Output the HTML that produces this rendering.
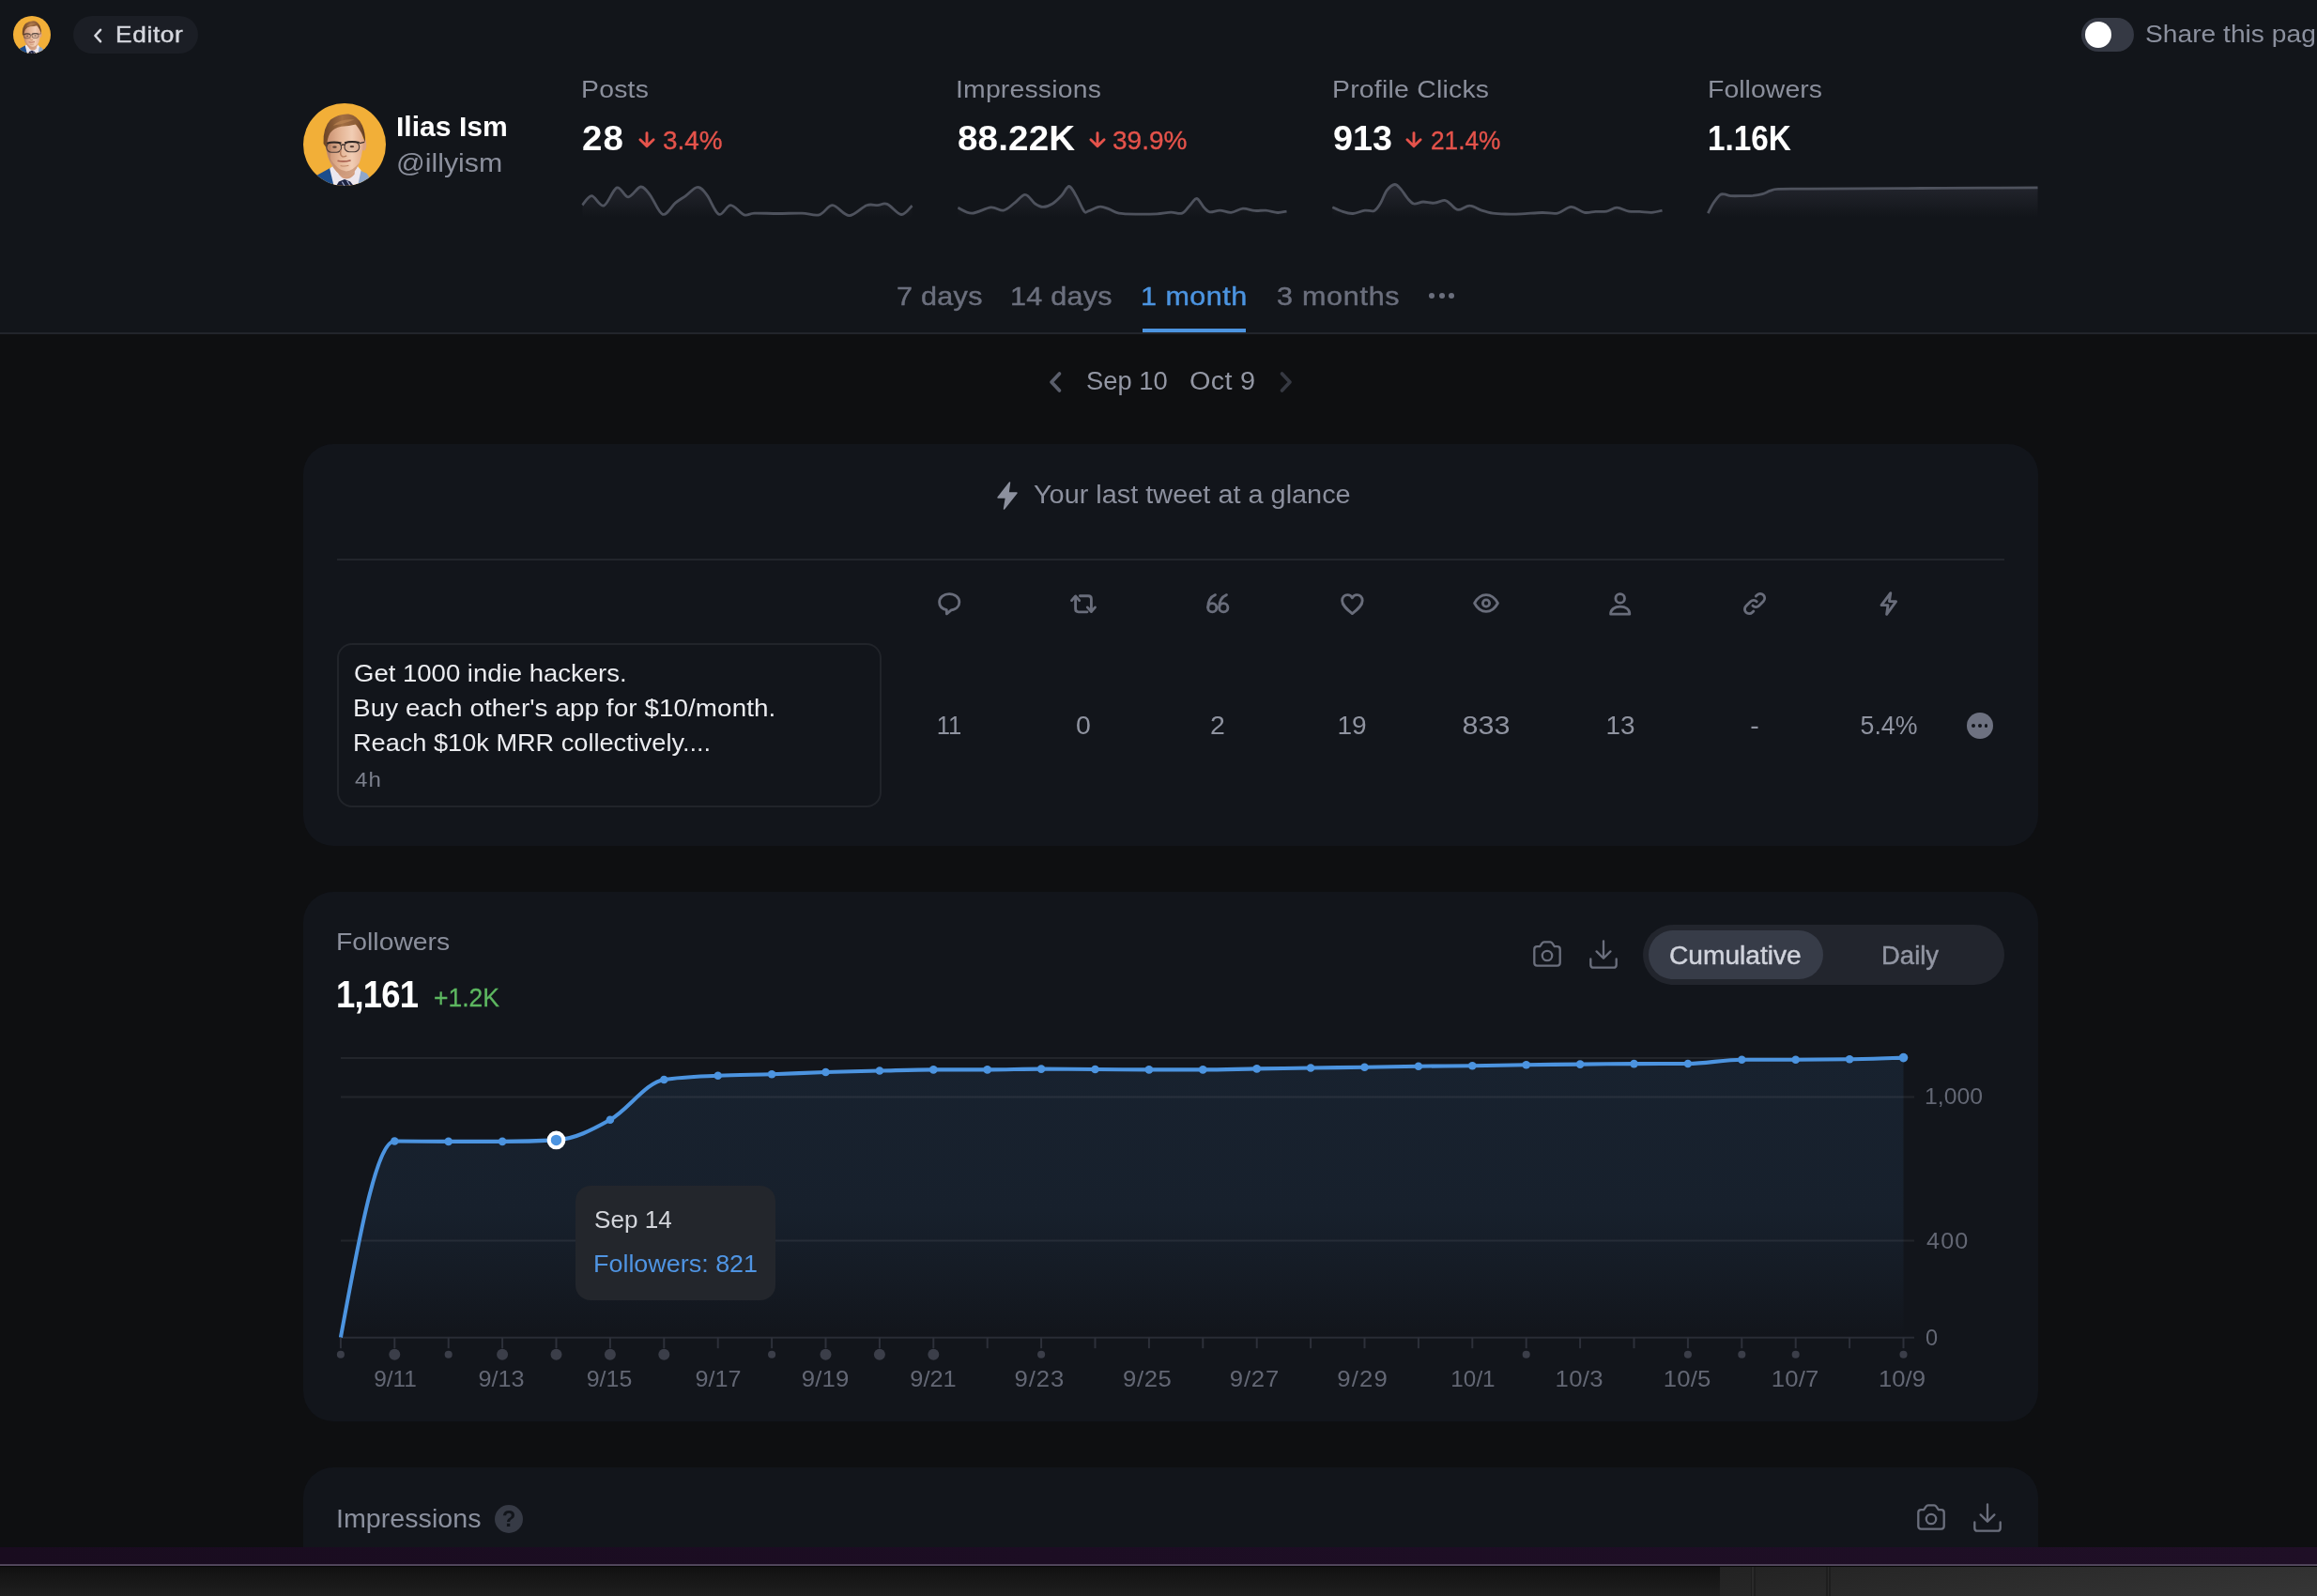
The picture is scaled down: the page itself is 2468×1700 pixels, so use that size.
<!DOCTYPE html>
<html lang="en"><head><meta charset="utf-8"><title>Analytics</title>
<style>
html,body{margin:0;padding:0;background:#0e0f11;}
body{width:2468px;height:1700px;overflow:hidden;position:relative;font-family:"Liberation Sans", Arial, sans-serif;}
.t{position:absolute;white-space:nowrap;}
.b{position:absolute;box-sizing:border-box;}
svg{position:absolute;overflow:visible;}
</style></head><body>
<div class="b" style="left:0px;top:0px;width:2468px;height:354px;background:#12151a;border-radius:0px;"></div>
<div class="b" style="left:0px;top:354px;width:2468px;height:2px;background:#22252c;border-radius:0px;"></div>
<svg viewBox="0 0 100 100" style="left:14px;top:17px;width:40px;height:40px">
<defs><clipPath id="a1"><circle cx="50" cy="50" r="50"/></clipPath>
<filter id="a1b" x="-10%" y="-10%" width="120%" height="120%"><feGaussianBlur stdDeviation="1.3"/></filter>
<linearGradient id="a1g" x1="0" y1="0" x2="1" y2="0"><stop offset="0" stop-color="#c68d6d"/><stop offset=".35" stop-color="#e3b292"/><stop offset=".7" stop-color="#f1cdb4"/><stop offset="1" stop-color="#e2ad8e"/></linearGradient>
<linearGradient id="a1h" x1="0" y1="0" x2="1" y2="0"><stop offset="0" stop-color="#6a4326"/><stop offset=".45" stop-color="#a36f43"/><stop offset=".8" stop-color="#8a5a35"/><stop offset="1" stop-color="#5e3b22"/></linearGradient></defs>
<circle cx="50" cy="50" r="50" fill="#f2af38"/>
<g clip-path="url(#a1)"><g filter="url(#a1b)">
<path d="M8,100 L17,87 L33,78 L40,100 Z" fill="#1e4d8d"/>
<path d="M66,80 L77,85 L86,100 L62,100 Z" fill="#8ea6c9"/>
<path d="M32,79 L40,73 L63,73 L70,81 L66,100 L37,100 Z" fill="#ece7ee"/>
<path d="M39,66 L64,66 L62,86 Q52,97 43,86 Z" fill="#d29b7b"/>
<path d="M43,95 L50,92 L57,95 L61,100 L40,100 Z" fill="#1a2040"/>
<path d="M47,95 L50,100 M53,94 L57,100" stroke="#9aa3c4" stroke-width="1.500"/>
<ellipse cx="73.500" cy="50" rx="3" ry="7.500" fill="#dba283"/>
<path d="M27.500,44 Q26.500,58 31.500,69 Q36,80 44,86 Q52,90.500 59,86 Q66,79 69,69 Q72.500,58 72.500,44 Q71,23 50,22 Q29,23 27.500,44 Z" fill="url(#a1g)"/>
<path d="M31.500,66 Q36,80 44,86 Q52,90.500 59,86 Q65,80 68,72 Q60,82 52,82.500 Q42,82 31.500,66 Z" fill="#bd8464" opacity=".6"/>
<path d="M28,46 Q27,60 33,72 Q33,60 33.500,48 Z" fill="#b67f60" opacity=".55"/>
<path d="M24.500,49 Q23.500,30 33,20 Q43,12.500 55,13.200 Q66,15 71.500,27 Q75.500,36 75,48 Q73,41 70.500,36 Q67,30 63.500,25.500 Q56,27.500 46,28 Q37,29.500 32.500,36 Q29,42 28,54 Z" fill="url(#a1h)"/>
<path d="M36,27 Q46,18 62,20 Q54,23 46,25 Q40,26 36,27 Z" fill="#b98352" opacity=".75"/>
<rect x="28.300" y="47.400" width="17.800" height="12" rx="5.800" fill="rgba(90,60,50,.10)" stroke="#4a3a35" stroke-width="1.300"/>
<rect x="50" y="46.800" width="17.800" height="12" rx="5.800" fill="rgba(90,60,50,.10)" stroke="#4a3a35" stroke-width="1.300"/>
<path d="M28.500,48.500 Q37,46 46,48.300 M50,47.800 Q59,45.500 68,47.700" stroke="#2f2624" stroke-width="2.100" fill="none"/>
<path d="M46.200,50.800 Q48,49.300 50,50.300" stroke="#3a2d2a" stroke-width="1.700" fill="none"/>
<path d="M68,48.500 L74,47" stroke="#3a2d2a" stroke-width="1.400"/>
<ellipse cx="38" cy="53" rx="2.600" ry="1.300" fill="#5a4035"/><ellipse cx="59" cy="52.500" rx="2.600" ry="1.300" fill="#5a4035"/>
<path d="M45.500,57 Q44,63 47.500,64.500 Q50,65 52.500,63.500" stroke="#b87f60" stroke-width="1.600" fill="none"/>
<path d="M41.500,69.600 Q49,71.500 57.500,69" stroke="#a9604f" stroke-width="2" fill="none"/>
<path d="M45,75.500 Q50,77 55,75.300" stroke="#c08868" stroke-width="1.200" fill="none"/>
</g></g></svg>
<svg viewBox="0 0 100 100" style="left:323px;top:110px;width:88px;height:88px">
<defs><clipPath id="a2"><circle cx="50" cy="50" r="50"/></clipPath>
<filter id="a2b" x="-10%" y="-10%" width="120%" height="120%"><feGaussianBlur stdDeviation="0.9"/></filter>
<linearGradient id="a2g" x1="0" y1="0" x2="1" y2="0"><stop offset="0" stop-color="#c68d6d"/><stop offset=".35" stop-color="#e3b292"/><stop offset=".7" stop-color="#f1cdb4"/><stop offset="1" stop-color="#e2ad8e"/></linearGradient>
<linearGradient id="a2h" x1="0" y1="0" x2="1" y2="0"><stop offset="0" stop-color="#6a4326"/><stop offset=".45" stop-color="#a36f43"/><stop offset=".8" stop-color="#8a5a35"/><stop offset="1" stop-color="#5e3b22"/></linearGradient></defs>
<circle cx="50" cy="50" r="50" fill="#f2af38"/>
<g clip-path="url(#a2)"><g filter="url(#a2b)">
<path d="M8,100 L17,87 L33,78 L40,100 Z" fill="#1e4d8d"/>
<path d="M66,80 L77,85 L86,100 L62,100 Z" fill="#8ea6c9"/>
<path d="M32,79 L40,73 L63,73 L70,81 L66,100 L37,100 Z" fill="#ece7ee"/>
<path d="M39,66 L64,66 L62,86 Q52,97 43,86 Z" fill="#d29b7b"/>
<path d="M43,95 L50,92 L57,95 L61,100 L40,100 Z" fill="#1a2040"/>
<path d="M47,95 L50,100 M53,94 L57,100" stroke="#9aa3c4" stroke-width="1.500"/>
<ellipse cx="73.500" cy="50" rx="3" ry="7.500" fill="#dba283"/>
<path d="M27.500,44 Q26.500,58 31.500,69 Q36,80 44,86 Q52,90.500 59,86 Q66,79 69,69 Q72.500,58 72.500,44 Q71,23 50,22 Q29,23 27.500,44 Z" fill="url(#a2g)"/>
<path d="M31.500,66 Q36,80 44,86 Q52,90.500 59,86 Q65,80 68,72 Q60,82 52,82.500 Q42,82 31.500,66 Z" fill="#bd8464" opacity=".6"/>
<path d="M28,46 Q27,60 33,72 Q33,60 33.500,48 Z" fill="#b67f60" opacity=".55"/>
<path d="M24.500,49 Q23.500,30 33,20 Q43,12.500 55,13.200 Q66,15 71.500,27 Q75.500,36 75,48 Q73,41 70.500,36 Q67,30 63.500,25.500 Q56,27.500 46,28 Q37,29.500 32.500,36 Q29,42 28,54 Z" fill="url(#a2h)"/>
<path d="M36,27 Q46,18 62,20 Q54,23 46,25 Q40,26 36,27 Z" fill="#b98352" opacity=".75"/>
<rect x="28.300" y="47.400" width="17.800" height="12" rx="5.800" fill="rgba(90,60,50,.10)" stroke="#4a3a35" stroke-width="1.300"/>
<rect x="50" y="46.800" width="17.800" height="12" rx="5.800" fill="rgba(90,60,50,.10)" stroke="#4a3a35" stroke-width="1.300"/>
<path d="M28.500,48.500 Q37,46 46,48.300 M50,47.800 Q59,45.500 68,47.700" stroke="#2f2624" stroke-width="2.100" fill="none"/>
<path d="M46.200,50.800 Q48,49.300 50,50.300" stroke="#3a2d2a" stroke-width="1.700" fill="none"/>
<path d="M68,48.500 L74,47" stroke="#3a2d2a" stroke-width="1.400"/>
<ellipse cx="38" cy="53" rx="2.600" ry="1.300" fill="#5a4035"/><ellipse cx="59" cy="52.500" rx="2.600" ry="1.300" fill="#5a4035"/>
<path d="M45.500,57 Q44,63 47.500,64.500 Q50,65 52.500,63.500" stroke="#b87f60" stroke-width="1.600" fill="none"/>
<path d="M41.500,69.600 Q49,71.500 57.500,69" stroke="#a9604f" stroke-width="2" fill="none"/>
<path d="M45,75.500 Q50,77 55,75.300" stroke="#c08868" stroke-width="1.200" fill="none"/>
</g></g></svg>
<div class="b" style="left:78px;top:17px;width:133px;height:40px;background:#1b1e25;border-radius:20px;"></div>
<svg viewBox="0 0 10 16" style="left:99px;top:29.5px;width:10px;height:16px"><path d="M8,1.800 L2.400,8 L8,14.200" fill="none" stroke="#d5d7de" stroke-width="2.600" stroke-linecap="round" stroke-linejoin="round"/></svg>
<div class="t" style="top:24.96px;font-size:24.5px;line-height:24.5px;color:#d5d7de;font-weight:400;letter-spacing:0.622px;left:123.06px;transform:scaleX(1.07);transform-origin:0 0;-webkit-text-stroke:0.45px;">Editor</div>
<div class="b" style="left:2217px;top:19px;width:56px;height:36px;background:#353944;border-radius:18px;"></div>
<div class="b" style="left:2220.8px;top:22.8px;width:28.4px;height:28.4px;background:#ffffff;border-radius:15px;"></div>
<div class="t" style="top:23.27px;font-size:26.5px;line-height:26.5px;color:#8b909e;font-weight:400;left:2285.10px;transform:scaleX(1.0639);transform-origin:0 0;">Share this page</div>
<div class="t" style="top:120.30px;font-size:30px;line-height:30px;color:#ffffff;font-weight:700;left:421.99px;transform:scaleX(1.0033);transform-origin:0 0;">Ilias Ism</div>
<div class="t" style="top:159.07px;font-size:28.5px;line-height:28.5px;color:#8b8f9c;font-weight:400;left:421.74px;transform:scaleX(1.0634);transform-origin:0 0;">@illyism</div>
<div class="t" style="top:81.57px;font-size:26.5px;line-height:26.5px;color:#8b8f9c;font-weight:400;letter-spacing:0.216px;left:618.73px;transform:scaleX(1.07);transform-origin:0 0;">Posts</div>
<div class="t" style="top:129.63px;font-size:36px;line-height:36px;color:#ffffff;font-weight:700;letter-spacing:1.097px;left:620.30px;transform:scaleX(1.07);transform-origin:0 0;">28</div>
<svg viewBox="0 0 18 18" style="left:679.9px;top:139.5px;width:18px;height:18px"><path d="M9,1.600 V15.600 M1.900,8.700 L9,15.800 L16.100,8.700" fill="none" stroke="#e5534b" stroke-width="2.900" stroke-linecap="round" stroke-linejoin="round"/></svg>
<div class="t" style="top:137.04px;font-size:27px;line-height:27px;color:#e5534b;font-weight:400;letter-spacing:0.001px;left:705.77px;transform:scaleX(1.0314);transform-origin:0 0;-webkit-text-stroke:0.35px;">3.4%</div>
<div class="t" style="top:81.57px;font-size:26.5px;line-height:26.5px;color:#8b8f9c;font-weight:400;letter-spacing:0.187px;left:1018.46px;transform:scaleX(1.07);transform-origin:0 0;">Impressions</div>
<div class="t" style="top:129.63px;font-size:36px;line-height:36px;color:#ffffff;font-weight:700;letter-spacing:0.153px;left:1020.30px;transform:scaleX(1.07);transform-origin:0 0;">88.22K</div>
<svg viewBox="0 0 18 18" style="left:1160.1px;top:139.5px;width:18px;height:18px"><path d="M9,1.600 V15.600 M1.900,8.700 L9,15.800 L16.100,8.700" fill="none" stroke="#e5534b" stroke-width="2.900" stroke-linecap="round" stroke-linejoin="round"/></svg>
<div class="t" style="top:137.04px;font-size:27px;line-height:27px;color:#e5534b;font-weight:400;left:1185.46px;transform:scaleX(1.0372);transform-origin:0 0;-webkit-text-stroke:0.35px;">39.9%</div>
<div class="t" style="top:81.57px;font-size:26.5px;line-height:26.5px;color:#8b8f9c;font-weight:400;letter-spacing:0.228px;left:1418.73px;transform:scaleX(1.07);transform-origin:0 0;">Profile Clicks</div>
<div class="t" style="top:129.63px;font-size:36px;line-height:36px;color:#ffffff;font-weight:700;letter-spacing:-0.001px;left:1420.32px;transform:scaleX(1.0482);transform-origin:0 0;">913</div>
<svg viewBox="0 0 18 18" style="left:1497.1px;top:139.5px;width:18px;height:18px"><path d="M9,1.600 V15.600 M1.900,8.700 L9,15.800 L16.100,8.700" fill="none" stroke="#e5534b" stroke-width="2.900" stroke-linecap="round" stroke-linejoin="round"/></svg>
<div class="t" style="top:137.04px;font-size:27px;line-height:27px;color:#e5534b;font-weight:400;left:1523.78px;transform:scaleX(0.9721);transform-origin:0 0;-webkit-text-stroke:0.35px;">21.4%</div>
<div class="t" style="top:81.57px;font-size:26.5px;line-height:26.5px;color:#8b8f9c;font-weight:400;letter-spacing:0.07px;left:1818.73px;transform:scaleX(1.07);transform-origin:0 0;">Followers</div>
<div class="t" style="top:129.63px;font-size:36px;line-height:36px;color:#ffffff;font-weight:700;letter-spacing:-0.001px;left:1819.42px;transform:scaleX(0.925);transform-origin:0 0;">1.16K</div>
<svg style="left:0;top:0;width:2468px;height:260px" viewBox="0 0 2468 260"><defs><linearGradient id="sg" x1="0" y1="0" x2="0" y2="1" gradientUnits="userSpaceOnUse"><stop offset="0" stop-color="#262932" /><stop offset="0" stop-color="#262932" stop-opacity=".9"/><stop offset="1" stop-color="#262932" stop-opacity="0"/></linearGradient></defs>
<linearGradient id="sg620" x1="0" y1="196" x2="0" y2="231" gradientUnits="userSpaceOnUse"><stop offset="0" stop-color="#24262e"/><stop offset="1" stop-color="#24262e" stop-opacity="0"/></linearGradient>
<path d="M620.4,218.4C622.1,216.8 626.4,208.5 630.2,208.6C634.0,208.7 638.7,220.5 643.2,219.1C647.6,217.6 652.8,201.4 657.1,199.9C661.5,198.3 665.0,209.9 669.2,209.8C673.5,209.7 678.5,199.4 682.4,199.0C686.2,198.7 688.6,202.9 692.5,207.8C696.4,212.7 701.5,226.9 705.9,228.3C710.4,229.7 715.3,219.5 719.4,216.2C723.5,212.9 726.4,211.4 730.4,208.6C734.3,205.8 739.2,199.5 743.0,199.4C746.8,199.2 749.3,202.9 753.1,207.8C756.9,212.6 761.5,226.5 765.7,228.3C769.9,230.1 773.8,218.6 778.3,218.7C782.8,218.8 788.4,227.4 792.6,228.8C796.8,230.2 797.5,227.4 803.6,227.1C809.6,226.9 820.4,227.5 828.8,227.5C837.2,227.5 846.8,226.9 854.1,227.1C861.4,227.4 867.1,230.2 872.6,228.8C878.1,227.4 881.6,218.6 886.9,218.7C892.2,218.9 898.5,229.7 904.6,229.7C910.6,229.7 918.0,220.5 923.1,218.7C928.1,216.9 931.2,218.9 934.9,218.7C938.5,218.5 940.8,215.7 945.0,217.4C949.2,219.0 955.7,228.2 960.1,228.5C964.5,228.8 969.6,220.6 971.6,219.1 L971.6,231 L620.4,231 Z" fill="url(#sg620)"/>
<path d="M620.4,218.4C622.1,216.8 626.4,208.5 630.2,208.6C634.0,208.7 638.7,220.5 643.2,219.1C647.6,217.6 652.8,201.4 657.1,199.9C661.5,198.3 665.0,209.9 669.2,209.8C673.5,209.7 678.5,199.4 682.4,199.0C686.2,198.7 688.6,202.9 692.5,207.8C696.4,212.7 701.5,226.9 705.9,228.3C710.4,229.7 715.3,219.5 719.4,216.2C723.5,212.9 726.4,211.4 730.4,208.6C734.3,205.8 739.2,199.5 743.0,199.4C746.8,199.2 749.3,202.9 753.1,207.8C756.9,212.6 761.5,226.5 765.7,228.3C769.9,230.1 773.8,218.6 778.3,218.7C782.8,218.8 788.4,227.4 792.6,228.8C796.8,230.2 797.5,227.4 803.6,227.1C809.6,226.9 820.4,227.5 828.8,227.5C837.2,227.5 846.8,226.9 854.1,227.1C861.4,227.4 867.1,230.2 872.6,228.8C878.1,227.4 881.6,218.6 886.9,218.7C892.2,218.9 898.5,229.7 904.6,229.7C910.6,229.7 918.0,220.5 923.1,218.7C928.1,216.9 931.2,218.9 934.9,218.7C938.5,218.5 940.8,215.7 945.0,217.4C949.2,219.0 955.7,228.2 960.1,228.5C964.5,228.8 969.6,220.6 971.6,219.1" fill="none" stroke="#4e525d" stroke-width="2.800" stroke-linejoin="round" stroke-linecap="butt"/>
<linearGradient id="sg1020" x1="0" y1="196" x2="0" y2="231" gradientUnits="userSpaceOnUse"><stop offset="0" stop-color="#24262e"/><stop offset="1" stop-color="#24262e" stop-opacity="0"/></linearGradient>
<path d="M1020.4,221.2C1022.9,222.2 1029.4,227.2 1035.2,227.1C1041.1,227.1 1049.8,221.4 1055.4,220.9C1061.1,220.4 1064.7,224.9 1068.9,224.1C1073.1,223.3 1076.8,219.0 1080.7,216.2C1084.6,213.4 1088.5,207.1 1092.1,207.3C1095.8,207.4 1099.4,214.8 1102.6,217.0C1105.7,219.2 1107.9,220.4 1111.0,220.4C1114.1,220.4 1117.7,219.1 1121.1,217.0C1124.5,214.9 1128.2,210.9 1131.2,207.8C1134.1,204.7 1136.2,198.4 1138.8,198.5C1141.3,198.7 1143.7,204.2 1146.3,208.6C1149.0,213.0 1152.5,222.4 1154.8,225.1C1157.0,227.8 1157.0,225.4 1159.8,224.6C1162.6,223.8 1167.9,220.3 1171.6,220.1C1175.2,219.8 1178.3,221.7 1181.7,222.9C1185.1,224.1 1186.7,226.3 1191.8,227.1C1196.8,228.0 1205.3,228.0 1212.0,228.1C1218.7,228.3 1226.3,228.1 1232.2,227.8C1238.1,227.5 1242.8,226.2 1247.3,226.1C1251.8,226.0 1255.7,228.4 1259.1,227.1C1262.5,225.9 1264.9,221.3 1267.5,218.7C1270.1,216.1 1272.2,211.1 1274.8,211.5C1277.3,211.9 1280.4,218.9 1282.7,221.2C1285.0,223.6 1285.8,225.3 1288.6,225.8C1291.4,226.3 1295.7,224.0 1299.5,224.1C1303.3,224.2 1307.2,226.6 1311.3,226.3C1315.4,226.0 1319.7,222.4 1323.9,222.1C1328.1,221.8 1332.5,224.1 1336.5,224.4C1340.6,224.8 1344.3,223.8 1348.3,224.1C1352.4,224.4 1357.2,226.3 1361.0,226.5C1364.7,226.6 1368.9,225.3 1370.5,225.1 L1370.5,231 L1020.4,231 Z" fill="url(#sg1020)"/>
<path d="M1020.4,221.2C1022.9,222.2 1029.4,227.2 1035.2,227.1C1041.1,227.1 1049.8,221.4 1055.4,220.9C1061.1,220.4 1064.7,224.9 1068.9,224.1C1073.1,223.3 1076.8,219.0 1080.7,216.2C1084.6,213.4 1088.5,207.1 1092.1,207.3C1095.8,207.4 1099.4,214.8 1102.6,217.0C1105.7,219.2 1107.9,220.4 1111.0,220.4C1114.1,220.4 1117.7,219.1 1121.1,217.0C1124.5,214.9 1128.2,210.9 1131.2,207.8C1134.1,204.7 1136.2,198.4 1138.8,198.5C1141.3,198.7 1143.7,204.2 1146.3,208.6C1149.0,213.0 1152.5,222.4 1154.8,225.1C1157.0,227.8 1157.0,225.4 1159.8,224.6C1162.6,223.8 1167.9,220.3 1171.6,220.1C1175.2,219.8 1178.3,221.7 1181.7,222.9C1185.1,224.1 1186.7,226.3 1191.8,227.1C1196.8,228.0 1205.3,228.0 1212.0,228.1C1218.7,228.3 1226.3,228.1 1232.2,227.8C1238.1,227.5 1242.8,226.2 1247.3,226.1C1251.8,226.0 1255.7,228.4 1259.1,227.1C1262.5,225.9 1264.9,221.3 1267.5,218.7C1270.1,216.1 1272.2,211.1 1274.8,211.5C1277.3,211.9 1280.4,218.9 1282.7,221.2C1285.0,223.6 1285.8,225.3 1288.6,225.8C1291.4,226.3 1295.7,224.0 1299.5,224.1C1303.3,224.2 1307.2,226.6 1311.3,226.3C1315.4,226.0 1319.7,222.4 1323.9,222.1C1328.1,221.8 1332.5,224.1 1336.5,224.4C1340.6,224.8 1344.3,223.8 1348.3,224.1C1352.4,224.4 1357.2,226.3 1361.0,226.5C1364.7,226.6 1368.9,225.3 1370.5,225.1" fill="none" stroke="#4e525d" stroke-width="2.800" stroke-linejoin="round" stroke-linecap="butt"/>
<linearGradient id="sg1420" x1="0" y1="196" x2="0" y2="231" gradientUnits="userSpaceOnUse"><stop offset="0" stop-color="#24262e"/><stop offset="1" stop-color="#24262e" stop-opacity="0"/></linearGradient>
<path d="M1419.3,220.7C1421.1,221.5 1426.6,224.3 1430.2,225.4C1433.8,226.6 1437.2,227.7 1441.1,227.5C1445.1,227.2 1450.0,224.6 1453.8,224.1C1457.6,223.6 1461.1,225.8 1463.9,224.4C1466.7,223.1 1468.4,219.8 1470.6,216.2C1472.8,212.6 1474.8,206.0 1477.3,202.7C1479.9,199.4 1483.2,196.6 1485.7,196.5C1488.3,196.4 1490.2,199.4 1492.5,201.9C1494.7,204.3 1497.0,208.6 1499.2,211.1C1501.5,213.7 1503.1,216.4 1505.9,217.0C1508.7,217.7 1512.4,215.2 1516.0,215.0C1519.7,214.9 1524.0,216.5 1527.8,216.2C1531.6,215.9 1536.0,213.2 1538.8,213.3C1541.6,213.5 1542.3,215.3 1544.7,217.0C1547.0,218.7 1549.6,223.1 1553.1,223.4C1556.6,223.8 1561.5,218.9 1565.7,219.1C1569.9,219.2 1574.3,222.8 1578.3,224.1C1582.4,225.4 1585.9,226.5 1590.1,227.1C1594.3,227.8 1598.5,227.9 1603.6,228.0C1608.6,228.1 1613.9,228.1 1620.4,227.8C1626.9,227.6 1635.8,226.6 1642.3,226.5C1648.7,226.3 1653.9,228.1 1659.1,227.1C1664.3,226.1 1668.7,220.5 1673.4,220.4C1678.2,220.3 1683.4,225.4 1687.7,226.3C1692.1,227.1 1695.6,225.6 1699.5,225.4C1703.4,225.3 1707.5,225.8 1711.3,225.1C1715.1,224.4 1718.3,221.2 1722.2,221.2C1726.2,221.2 1730.8,224.4 1734.9,225.1C1738.9,225.8 1742.6,225.3 1746.6,225.4C1750.7,225.6 1755.3,226.5 1759.3,226.3C1763.3,226.1 1768.7,224.5 1770.5,224.1 L1770.5,231 L1419.3,231 Z" fill="url(#sg1420)"/>
<path d="M1419.3,220.7C1421.1,221.5 1426.6,224.3 1430.2,225.4C1433.8,226.6 1437.2,227.7 1441.1,227.5C1445.1,227.2 1450.0,224.6 1453.8,224.1C1457.6,223.6 1461.1,225.8 1463.9,224.4C1466.7,223.1 1468.4,219.8 1470.6,216.2C1472.8,212.6 1474.8,206.0 1477.3,202.7C1479.9,199.4 1483.2,196.6 1485.7,196.5C1488.3,196.4 1490.2,199.4 1492.5,201.9C1494.7,204.3 1497.0,208.6 1499.2,211.1C1501.5,213.7 1503.1,216.4 1505.9,217.0C1508.7,217.7 1512.4,215.2 1516.0,215.0C1519.7,214.9 1524.0,216.5 1527.8,216.2C1531.6,215.9 1536.0,213.2 1538.8,213.3C1541.6,213.5 1542.3,215.3 1544.7,217.0C1547.0,218.7 1549.6,223.1 1553.1,223.4C1556.6,223.8 1561.5,218.9 1565.7,219.1C1569.9,219.2 1574.3,222.8 1578.3,224.1C1582.4,225.4 1585.9,226.5 1590.1,227.1C1594.3,227.8 1598.5,227.9 1603.6,228.0C1608.6,228.1 1613.9,228.1 1620.4,227.8C1626.9,227.6 1635.8,226.6 1642.3,226.5C1648.7,226.3 1653.9,228.1 1659.1,227.1C1664.3,226.1 1668.7,220.5 1673.4,220.4C1678.2,220.3 1683.4,225.4 1687.7,226.3C1692.1,227.1 1695.6,225.6 1699.5,225.4C1703.4,225.3 1707.5,225.8 1711.3,225.1C1715.1,224.4 1718.3,221.2 1722.2,221.2C1726.2,221.2 1730.8,224.4 1734.9,225.1C1738.9,225.8 1742.6,225.3 1746.6,225.4C1750.7,225.6 1755.3,226.5 1759.3,226.3C1763.3,226.1 1768.7,224.5 1770.5,224.1" fill="none" stroke="#4e525d" stroke-width="2.800" stroke-linejoin="round" stroke-linecap="butt"/>
<linearGradient id="sg1820" x1="0" y1="196" x2="0" y2="231" gradientUnits="userSpaceOnUse"><stop offset="0" stop-color="#24262e"/><stop offset="1" stop-color="#24262e" stop-opacity="0"/></linearGradient>
<path d="M1819.3,227.1C1820.2,225.3 1823.0,219.4 1825.1,216.2C1827.3,213.0 1829.9,209.3 1831.9,207.8C1833.8,206.2 1835.0,206.8 1836.9,206.9C1838.9,207.1 1840.6,208.3 1843.7,208.6C1846.8,208.9 1851.5,208.7 1855.4,208.6C1859.4,208.6 1863.6,208.6 1867.2,208.3C1870.9,207.9 1874.2,207.4 1877.3,206.6C1880.4,205.8 1882.9,204.1 1885.7,203.2C1888.6,202.4 1887.1,201.7 1894.2,201.4C1901.2,201.0 1913.8,201.3 1927.8,201.2C1941.9,201.1 1958.7,201.0 1978.3,200.9C1998.0,200.8 2023.2,200.6 2045.7,200.5C2068.1,200.4 2092.2,200.3 2113.0,200.2C2133.8,200.1 2161.0,199.9 2170.5,199.9 L2170.5,231 L1819.3,231 Z" fill="url(#sg1820)"/>
<path d="M1819.3,227.1C1820.2,225.3 1823.0,219.4 1825.1,216.2C1827.3,213.0 1829.9,209.3 1831.9,207.8C1833.8,206.2 1835.0,206.8 1836.9,206.9C1838.9,207.1 1840.6,208.3 1843.7,208.6C1846.8,208.9 1851.5,208.7 1855.4,208.6C1859.4,208.6 1863.6,208.6 1867.2,208.3C1870.9,207.9 1874.2,207.4 1877.3,206.6C1880.4,205.8 1882.9,204.1 1885.7,203.2C1888.6,202.4 1887.1,201.7 1894.2,201.4C1901.2,201.0 1913.8,201.3 1927.8,201.2C1941.9,201.1 1958.7,201.0 1978.3,200.9C1998.0,200.8 2023.2,200.6 2045.7,200.5C2068.1,200.4 2092.2,200.3 2113.0,200.2C2133.8,200.1 2161.0,199.9 2170.5,199.9" fill="none" stroke="#4e525d" stroke-width="2.800" stroke-linejoin="round" stroke-linecap="butt"/>
</svg>
<div class="t" style="top:300.77px;font-size:28.5px;line-height:28.5px;color:#6b6f7d;font-weight:400;letter-spacing:0.292px;left:955.23px;transform:scaleX(1.07);transform-origin:0 0;-webkit-text-stroke:0.45px;">7 days</div>
<div class="t" style="top:300.77px;font-size:28.5px;line-height:28.5px;color:#6b6f7d;font-weight:400;letter-spacing:0.261px;left:1076.43px;transform:scaleX(1.07);transform-origin:0 0;-webkit-text-stroke:0.45px;">14 days</div>
<div class="t" style="top:300.77px;font-size:28.5px;line-height:28.5px;color:#4c94e0;font-weight:400;letter-spacing:0.463px;left:1215.23px;transform:scaleX(1.07);transform-origin:0 0;-webkit-text-stroke:0.45px;">1 month</div>
<div class="t" style="top:300.77px;font-size:28.5px;line-height:28.5px;color:#6b6f7d;font-weight:400;letter-spacing:0.692px;left:1359.53px;transform:scaleX(1.07);transform-origin:0 0;-webkit-text-stroke:0.45px;">3 months</div>
<div class="b" style="left:1522.0px;top:312px;width:6px;height:6px;background:#6b6f7d;border-radius:3px;"></div>
<div class="b" style="left:1532.7px;top:312px;width:6px;height:6px;background:#6b6f7d;border-radius:3px;"></div>
<div class="b" style="left:1543.4px;top:312px;width:6px;height:6px;background:#6b6f7d;border-radius:3px;"></div>
<div class="b" style="left:1217px;top:350px;width:110px;height:4px;background:#4c94e0;border-radius:0px;"></div>
<svg viewBox="0 0 14 22" style="left:1117px;top:396px;width:14px;height:22px"><path d="M11.500,2 L3,11 L11.500,20" fill="none" stroke="#5b5f6c" stroke-width="3.700" stroke-linecap="round" stroke-linejoin="round"/></svg>
<svg viewBox="0 0 14 22" style="left:1363px;top:396px;width:14px;height:22px"><path d="M2.500,2 L11,11 L2.500,20" fill="none" stroke="#363942" stroke-width="3.700" stroke-linecap="round" stroke-linejoin="round"/></svg>
<div class="t" style="top:393.14px;font-size:27px;line-height:27px;color:#9397a4;font-weight:400;left:1156.66px;transform:scaleX(1.0123);transform-origin:0 0;">Sep 10</div>
<div class="t" style="top:393.14px;font-size:27px;line-height:27px;color:#9397a4;font-weight:400;letter-spacing:0.248px;left:1267.26px;transform:scaleX(1.07);transform-origin:0 0;">Oct 9</div>
<div class="b" style="left:323px;top:473px;width:1848px;height:428px;background:#12151b;border-radius:32px;"></div>
<svg viewBox="0 0 24 30" style="left:1061px;top:513px;width:24px;height:30px"><path d="M14.500,1 L2,17 H10.500 L8.500,29 L22,12 H13 Z" fill="#8c909e" stroke="#8c909e" stroke-width="1.500" stroke-linejoin="round"/></svg>
<div class="t" style="top:514.14px;font-size:27px;line-height:27px;color:#8c909e;font-weight:400;left:1100.77px;transform:scaleX(1.0696);transform-origin:0 0;">Your last tweet at a glance</div>
<div class="b" style="left:359px;top:595px;width:1776px;height:2px;background:#22252c;border-radius:0px;"></div>
<div class="b" style="left:359.3px;top:685.3px;width:579.3px;height:175.2px;background:transparent;border-radius:16px;border:2px solid #21242a;"></div>
<div class="t" style="top:704.19px;font-size:26px;line-height:26px;color:#ebecf0;font-weight:400;left:376.98px;transform:scaleX(1.0583);transform-origin:0 0;">Get 1000 indie hackers.</div>
<div class="t" style="top:741.49px;font-size:26px;line-height:26px;color:#ebecf0;font-weight:400;letter-spacing:0.073px;left:376.03px;transform:scaleX(1.07);transform-origin:0 0;">Buy each other's app for $10/month.</div>
<div class="t" style="top:777.79px;font-size:26px;line-height:26px;color:#ebecf0;font-weight:400;left:376.08px;transform:scaleX(1.044);transform-origin:0 0;">Reach $10k MRR collectively....</div>
<div class="t" style="top:820.05px;font-size:22.5px;line-height:22.5px;color:#7b7f8c;font-weight:400;letter-spacing:1.081px;left:377.76px;transform:scaleX(1.07);transform-origin:0 0;">4h</div>
<div class="t" style="top:758.07px;font-size:28.5px;line-height:28.5px;color:#8f93a0;font-weight:400;letter-spacing:-0.014px;left:611.00px;width:800px;text-align:center;text-indent:-0.014px;transform:scaleX(0.9);">11</div>
<div class="t" style="top:758.07px;font-size:28.5px;line-height:28.5px;color:#8f93a0;font-weight:400;letter-spacing:0.6px;left:754.00px;width:800px;text-align:center;text-indent:0.6px;transform:scaleX(1.0001);">0</div>
<div class="t" style="top:758.07px;font-size:28.5px;line-height:28.5px;color:#8f93a0;font-weight:400;letter-spacing:0.6px;left:897.00px;width:800px;text-align:center;text-indent:0.6px;transform:scaleX(1.0001);">2</div>
<div class="t" style="top:758.07px;font-size:28.5px;line-height:28.5px;color:#8f93a0;font-weight:400;letter-spacing:-0.001px;left:1040.00px;width:800px;text-align:center;text-indent:-0.001px;transform:scaleX(0.9841);">19</div>
<div class="t" style="top:758.07px;font-size:28.5px;line-height:28.5px;color:#8f93a0;font-weight:400;letter-spacing:0.132px;left:1183.00px;width:800px;text-align:center;text-indent:0.132px;transform:scaleX(1.07);">833</div>
<div class="t" style="top:758.07px;font-size:28.5px;line-height:28.5px;color:#8f93a0;font-weight:400;letter-spacing:0.001px;left:1326.00px;width:800px;text-align:center;text-indent:0.001px;transform:scaleX(0.9797);">13</div>
<div class="t" style="top:758.07px;font-size:28.5px;line-height:28.5px;color:#8f93a0;font-weight:400;letter-spacing:0.6px;left:1469.00px;width:800px;text-align:center;text-indent:0.6px;transform:scaleX(1.0001);">-</div>
<div class="t" style="top:758.07px;font-size:28.5px;line-height:28.5px;color:#8f93a0;font-weight:400;left:1612.00px;width:800px;text-align:center;transform:scaleX(0.9368);">5.4%</div>
<svg viewBox="0 0 24.4 24.4" style="left:998.8px;top:630.5px;width:24.4px;height:24.4px" fill="none" stroke="#696d7b" stroke-width="2.850" stroke-linecap="round" stroke-linejoin="round"><path d="M12.200,1.600 C18.200,1.600 22.800,5.500 22.800,10.400 C22.800,14.600 19.400,18 14.200,18.900 L9.400,22.800 L9.300,18.700 C4.700,17.500 1.600,14.400 1.600,10.400 C1.600,5.500 6.200,1.600 12.200,1.600 Z"/></svg>
<svg viewBox="0 0 28 20.500" style="left:1140.0px;top:632.8px;width:28px;height:20.5px" fill="none" stroke="#696d7b" stroke-width="2.850" stroke-linecap="round" stroke-linejoin="round"><path d="M5.600,2.200 V15.600 Q5.600,18.800 8.800,18.800 H18 M1.500,6.600 L5.600,1.900 L9.700,6.600 M22.400,18.300 V4.900 Q22.400,1.700 19.200,1.700 H10.400 M18.300,13.900 L22.400,18.600 L26.500,13.900"/></svg>
<svg viewBox="0 0 24.400 22" style="left:1284.8px;top:632.0px;width:24.4px;height:22px" fill="none" stroke="#696d7b" stroke-width="2.850" stroke-linecap="round" stroke-linejoin="round"><circle cx="6.300" cy="15.300" r="4.600"/><path d="M1.700,15.300 C1.700,8 5,3.500 9.500,1.600"/><circle cx="18.300" cy="15.300" r="4.600"/><path d="M13.700,15.300 C13.700,8 17,3.500 21.500,1.600"/></svg>
<svg viewBox="0 0 24.800 23.400" style="left:1427.6px;top:631.5px;width:24.8px;height:23.4px" fill="none" stroke="#696d7b" stroke-width="2.850" stroke-linecap="round" stroke-linejoin="round"><path d="M12.400,21.600 C6,16.500 1.600,12.500 1.600,7.800 C1.600,4.200 4.300,1.600 7.400,1.600 C9.600,1.600 11.400,2.800 12.400,4.800 C13.400,2.800 15.200,1.600 17.400,1.600 C20.500,1.600 23.200,4.200 23.200,7.800 C23.200,12.500 18.800,16.500 12.400,21.600 Z"/></svg>
<svg viewBox="0 0 28 21" style="left:1569.0px;top:632.2px;width:28px;height:21px" fill="none" stroke="#696d7b" stroke-width="2.850" stroke-linecap="round" stroke-linejoin="round"><path d="M1.600,10.500 C5,4.200 9.200,1.600 14,1.600 C18.800,1.600 23,4.200 26.400,10.500 C23,16.800 18.800,19.400 14,19.400 C9.200,19.400 5,16.800 1.600,10.500 Z"/><circle cx="14" cy="10.500" r="3.600"/></svg>
<svg viewBox="0 0 23.400 24.800" style="left:1714.3px;top:630.9px;width:23.4px;height:24.8px" fill="none" stroke="#696d7b" stroke-width="2.850" stroke-linecap="round" stroke-linejoin="round"><circle cx="11.700" cy="6.400" r="4.800"/><path d="M1.600,23.200 C1.600,18 6,15.200 11.700,15.200 C17.400,15.200 21.800,18 21.800,23.200 Z"/></svg>
<svg viewBox="1.8 1.8 20.4 20.4" style="left:1857px;top:631px;width:24.2px;height:24px" fill="none" stroke="#696d7b" stroke-width="2.450" stroke-linecap="round" stroke-linejoin="round"><path d="M13.828 10.172a4 4 0 00-5.656 0l-4 4a4 4 0 105.656 5.656l1.102-1.101m-.758-4.899a4 4 0 005.656 0l4-4a4 4 0 00-5.656-5.656l-1.1 1.1"/></svg>
<svg viewBox="0 0 19.600 26" style="left:2002.0px;top:630.0px;width:19.6px;height:26px" fill="none" stroke="#696d7b" stroke-width="2.850" stroke-linecap="round" stroke-linejoin="round"><path d="M11.800,1.600 L2,14.600 H9 L7.600,24.400 L17.600,10.600 H10.400 Z"/></svg>
<div class="b" style="left:2095px;top:758.8px;width:28.2px;height:28.2px;background:#6d7180;border-radius:14.1px;"></div>
<div class="b" style="left:2100.4px;top:771.2px;width:3.6px;height:3.6px;background:#12151b;border-radius:2px;"></div>
<div class="b" style="left:2107.15px;top:771.2px;width:3.6px;height:3.6px;background:#12151b;border-radius:2px;"></div>
<div class="b" style="left:2113.9px;top:771.2px;width:3.6px;height:3.6px;background:#12151b;border-radius:2px;"></div>
<div class="b" style="left:323px;top:949.5px;width:1848px;height:564.5px;background:#12151b;border-radius:32px;"></div>
<div class="t" style="top:990.27px;font-size:26.5px;line-height:26.5px;color:#8b8f9c;font-weight:400;left:358.23px;transform:scaleX(1.0691);transform-origin:0 0;">Followers</div>
<div class="t" style="top:1038.62px;font-size:40.5px;line-height:40.5px;color:#ffffff;font-weight:700;letter-spacing:-0.913px;left:358.45px;transform:scaleX(0.9);transform-origin:0 0;">1,161</div>
<div class="t" style="top:1050.04px;font-size:27px;line-height:27px;color:#5db760;font-weight:400;left:462.48px;transform:scaleX(0.9792);transform-origin:0 0;-webkit-text-stroke:0.3px;">+1.2K</div>
<svg viewBox="0 0 30 28" style="left:1633.0px;top:1002.0px;width:30px;height:28px" fill="none" stroke="#6b6f7d" stroke-width="2.300" stroke-linecap="round" stroke-linejoin="round"><path d="M1.300,9.200 Q1.300,6.200 4.300,6.200 H7.200 L9.600,2.600 Q10.400,1.400 11.800,1.400 H18.200 Q19.600,1.400 20.400,2.600 L22.800,6.200 H25.700 Q28.700,6.200 28.700,9.200 V23.600 Q28.700,26.600 25.700,26.600 H4.300 Q1.300,26.600 1.300,23.600 Z"/><circle cx="15" cy="16" r="5.200"/></svg>
<svg viewBox="0 0 30 31" style="left:1693.0px;top:1001.2px;width:30px;height:31px" fill="none" stroke="#6b6f7d" stroke-width="2.300" stroke-linecap="round" stroke-linejoin="round"><path d="M15,1.300 V19.500 M7.600,12.400 L15,19.800 L22.400,12.400 M1.300,20.500 V26.700 Q1.300,29.700 4.300,29.700 H25.700 Q28.700,29.700 28.700,26.700 V20.500"/></svg>
<div class="b" style="left:1750px;top:985px;width:385px;height:64px;background:#22252d;border-radius:32px;"></div>
<div class="b" style="left:1756px;top:991px;width:186px;height:52px;background:#373c48;border-radius:26px;"></div>
<div class="t" style="top:1004.94px;font-size:27px;line-height:27px;color:#d0d3dc;font-weight:400;letter-spacing:0.001px;left:1778.40px;transform:scaleX(1.042);transform-origin:0 0;-webkit-text-stroke:0.45px;">Cumulative</div>
<div class="t" style="top:1004.94px;font-size:27px;line-height:27px;color:#9296a3;font-weight:400;left:2003.84px;transform:scaleX(1.0177);transform-origin:0 0;-webkit-text-stroke:0.45px;">Daily</div>
<svg style="left:0;top:1100px;width:2468px;height:420px" viewBox="0 1100 2468 420">
<defs><linearGradient id="cg" x1="0" y1="1126" x2="0" y2="1425" gradientUnits="userSpaceOnUse"><stop offset="0" stop-color="#4a8fd8" stop-opacity=".105"/><stop offset=".55" stop-color="#4a8fd8" stop-opacity=".09"/><stop offset=".8" stop-color="#4a8fd8" stop-opacity=".045"/><stop offset="1" stop-color="#4a8fd8" stop-opacity="0"/></linearGradient></defs>
<path d="M362.9,1424.7C382.0,1320.1 401.2,1215.5 420.3,1215.5C439.4,1215.5 458.6,1215.9 477.7,1215.9C496.8,1215.9 516.0,1215.9 535.1,1215.9C554.2,1215.9 573.4,1215.4 592.5,1214.4C611.6,1213.4 630.8,1203.5 649.9,1192.8C669.0,1182.1 688.2,1152.9 707.3,1150.0C726.4,1147.1 745.6,1146.7 764.7,1145.7C783.8,1144.7 803.0,1144.8 822.1,1144.2C841.2,1143.6 860.4,1142.6 879.5,1142.0C898.6,1141.4 917.8,1140.9 936.9,1140.5C956.0,1140.1 975.2,1139.4 994.3,1139.4C1013.4,1139.4 1032.6,1139.4 1051.7,1139.4C1070.8,1139.4 1090.0,1138.6 1109.1,1138.6C1128.2,1138.6 1147.4,1138.9 1166.5,1139.0C1185.6,1139.1 1204.8,1139.4 1223.9,1139.4C1243.0,1139.4 1262.2,1139.4 1281.3,1139.4C1300.4,1139.4 1319.6,1138.7 1338.7,1138.4C1357.8,1138.1 1377.0,1137.8 1396.1,1137.5C1415.2,1137.2 1434.4,1137.1 1453.5,1136.8C1472.6,1136.5 1491.8,1136.0 1510.9,1135.7C1530.0,1135.4 1549.2,1135.5 1568.3,1135.2C1587.4,1135.0 1606.6,1134.5 1625.7,1134.2C1644.8,1133.9 1664.0,1133.8 1683.1,1133.6C1702.2,1133.4 1721.4,1133.2 1740.5,1133.1C1759.6,1133.0 1778.8,1133.1 1797.9,1133.0C1817.0,1132.9 1836.2,1128.7 1855.3,1128.7C1874.4,1128.7 1893.6,1128.7 1912.7,1128.7C1931.8,1128.7 1951.0,1128.5 1970.1,1128.2C1989.2,1127.9 2008.4,1127.2 2027.5,1126.6 L2027.5,1424.7 L362.9,1424.7 Z" fill="url(#cg)"/>
<line x1="363" x2="2027" y1="1127" y2="1127" stroke="rgba(255,255,255,.072)" stroke-width="2"/>
<line x1="363" x2="2039" y1="1168.4" y2="1168.4" stroke="rgba(255,255,255,.072)" stroke-width="2"/>
<line x1="363" x2="2039" y1="1321.4" y2="1321.4" stroke="rgba(255,255,255,.072)" stroke-width="2"/>
<line x1="363" x2="2039" y1="1424.7" y2="1424.7" stroke="#292c35" stroke-width="2"/>
<path d="M362.9,1424.7C382.0,1320.1 401.2,1215.5 420.3,1215.5C439.4,1215.5 458.6,1215.9 477.7,1215.9C496.8,1215.9 516.0,1215.9 535.1,1215.9C554.2,1215.9 573.4,1215.4 592.5,1214.4C611.6,1213.4 630.8,1203.5 649.9,1192.8C669.0,1182.1 688.2,1152.9 707.3,1150.0C726.4,1147.1 745.6,1146.7 764.7,1145.7C783.8,1144.7 803.0,1144.8 822.1,1144.2C841.2,1143.6 860.4,1142.6 879.5,1142.0C898.6,1141.4 917.8,1140.9 936.9,1140.5C956.0,1140.1 975.2,1139.4 994.3,1139.4C1013.4,1139.4 1032.6,1139.4 1051.7,1139.4C1070.8,1139.4 1090.0,1138.6 1109.1,1138.6C1128.2,1138.6 1147.4,1138.9 1166.5,1139.0C1185.6,1139.1 1204.8,1139.4 1223.9,1139.4C1243.0,1139.4 1262.2,1139.4 1281.3,1139.4C1300.4,1139.4 1319.6,1138.7 1338.7,1138.4C1357.8,1138.1 1377.0,1137.8 1396.1,1137.5C1415.2,1137.2 1434.4,1137.1 1453.5,1136.8C1472.6,1136.5 1491.8,1136.0 1510.9,1135.7C1530.0,1135.4 1549.2,1135.5 1568.3,1135.2C1587.4,1135.0 1606.6,1134.5 1625.7,1134.2C1644.8,1133.9 1664.0,1133.8 1683.1,1133.6C1702.2,1133.4 1721.4,1133.2 1740.5,1133.1C1759.6,1133.0 1778.8,1133.1 1797.9,1133.0C1817.0,1132.9 1836.2,1128.7 1855.3,1128.7C1874.4,1128.7 1893.6,1128.7 1912.7,1128.7C1931.8,1128.7 1951.0,1128.5 1970.1,1128.2C1989.2,1127.9 2008.4,1127.2 2027.5,1126.6" fill="none" stroke="#4c94e0" stroke-width="4.100" stroke-linejoin="round" stroke-linecap="butt"/>
<circle cx="420.3" cy="1215.5" r="4.3" fill="#4c94e0"/>
<circle cx="477.7" cy="1215.9" r="4.3" fill="#4c94e0"/>
<circle cx="535.1" cy="1215.9" r="4.3" fill="#4c94e0"/>
<circle cx="649.9" cy="1192.8" r="4.3" fill="#4c94e0"/>
<circle cx="707.3" cy="1150.0" r="4.3" fill="#4c94e0"/>
<circle cx="764.7" cy="1145.7" r="4.3" fill="#4c94e0"/>
<circle cx="822.1" cy="1144.2" r="4.3" fill="#4c94e0"/>
<circle cx="879.5" cy="1142.0" r="4.3" fill="#4c94e0"/>
<circle cx="936.9" cy="1140.5" r="4.3" fill="#4c94e0"/>
<circle cx="994.3" cy="1139.4" r="4.3" fill="#4c94e0"/>
<circle cx="1051.7" cy="1139.4" r="4.3" fill="#4c94e0"/>
<circle cx="1109.1" cy="1138.6" r="4.3" fill="#4c94e0"/>
<circle cx="1166.5" cy="1139.0" r="4.3" fill="#4c94e0"/>
<circle cx="1223.9" cy="1139.4" r="4.3" fill="#4c94e0"/>
<circle cx="1281.3" cy="1139.4" r="4.3" fill="#4c94e0"/>
<circle cx="1338.7" cy="1138.4" r="4.3" fill="#4c94e0"/>
<circle cx="1396.1" cy="1137.5" r="4.3" fill="#4c94e0"/>
<circle cx="1453.5" cy="1136.8" r="4.3" fill="#4c94e0"/>
<circle cx="1510.9" cy="1135.7" r="4.3" fill="#4c94e0"/>
<circle cx="1568.3" cy="1135.2" r="4.3" fill="#4c94e0"/>
<circle cx="1625.7" cy="1134.2" r="4.3" fill="#4c94e0"/>
<circle cx="1683.1" cy="1133.6" r="4.3" fill="#4c94e0"/>
<circle cx="1740.5" cy="1133.1" r="4.3" fill="#4c94e0"/>
<circle cx="1797.9" cy="1133.0" r="4.3" fill="#4c94e0"/>
<circle cx="1855.3" cy="1128.7" r="4.3" fill="#4c94e0"/>
<circle cx="1912.7" cy="1128.7" r="4.3" fill="#4c94e0"/>
<circle cx="1970.1" cy="1128.2" r="4.3" fill="#4c94e0"/>
<circle cx="2027.5" cy="1126.6" r="4.8" fill="#4c94e0"/>
<circle cx="592.5" cy="1214.4" r="7.800" fill="#4c94e0" stroke="#fff" stroke-width="4.150"/>
<line x1="362.9" x2="362.9" y1="1424.7" y2="1436.2" stroke="#2d303a" stroke-width="2"/>
<line x1="420.3" x2="420.3" y1="1424.7" y2="1436.2" stroke="#2d303a" stroke-width="2"/>
<line x1="477.7" x2="477.7" y1="1424.7" y2="1436.2" stroke="#2d303a" stroke-width="2"/>
<line x1="535.1" x2="535.1" y1="1424.7" y2="1436.2" stroke="#2d303a" stroke-width="2"/>
<line x1="592.5" x2="592.5" y1="1424.7" y2="1436.2" stroke="#2d303a" stroke-width="2"/>
<line x1="649.9" x2="649.9" y1="1424.7" y2="1436.2" stroke="#2d303a" stroke-width="2"/>
<line x1="707.3" x2="707.3" y1="1424.7" y2="1436.2" stroke="#2d303a" stroke-width="2"/>
<line x1="764.7" x2="764.7" y1="1424.7" y2="1436.2" stroke="#2d303a" stroke-width="2"/>
<line x1="822.1" x2="822.1" y1="1424.7" y2="1436.2" stroke="#2d303a" stroke-width="2"/>
<line x1="879.5" x2="879.5" y1="1424.7" y2="1436.2" stroke="#2d303a" stroke-width="2"/>
<line x1="936.9" x2="936.9" y1="1424.7" y2="1436.2" stroke="#2d303a" stroke-width="2"/>
<line x1="994.3" x2="994.3" y1="1424.7" y2="1436.2" stroke="#2d303a" stroke-width="2"/>
<line x1="1051.7" x2="1051.7" y1="1424.7" y2="1436.2" stroke="#2d303a" stroke-width="2"/>
<line x1="1109.1" x2="1109.1" y1="1424.7" y2="1436.2" stroke="#2d303a" stroke-width="2"/>
<line x1="1166.5" x2="1166.5" y1="1424.7" y2="1436.2" stroke="#2d303a" stroke-width="2"/>
<line x1="1223.9" x2="1223.9" y1="1424.7" y2="1436.2" stroke="#2d303a" stroke-width="2"/>
<line x1="1281.3" x2="1281.3" y1="1424.7" y2="1436.2" stroke="#2d303a" stroke-width="2"/>
<line x1="1338.7" x2="1338.7" y1="1424.7" y2="1436.2" stroke="#2d303a" stroke-width="2"/>
<line x1="1396.1" x2="1396.1" y1="1424.7" y2="1436.2" stroke="#2d303a" stroke-width="2"/>
<line x1="1453.5" x2="1453.5" y1="1424.7" y2="1436.2" stroke="#2d303a" stroke-width="2"/>
<line x1="1510.9" x2="1510.9" y1="1424.7" y2="1436.2" stroke="#2d303a" stroke-width="2"/>
<line x1="1568.3" x2="1568.3" y1="1424.7" y2="1436.2" stroke="#2d303a" stroke-width="2"/>
<line x1="1625.7" x2="1625.7" y1="1424.7" y2="1436.2" stroke="#2d303a" stroke-width="2"/>
<line x1="1683.1" x2="1683.1" y1="1424.7" y2="1436.2" stroke="#2d303a" stroke-width="2"/>
<line x1="1740.5" x2="1740.5" y1="1424.7" y2="1436.2" stroke="#2d303a" stroke-width="2"/>
<line x1="1797.9" x2="1797.9" y1="1424.7" y2="1436.2" stroke="#2d303a" stroke-width="2"/>
<line x1="1855.3" x2="1855.3" y1="1424.7" y2="1436.2" stroke="#2d303a" stroke-width="2"/>
<line x1="1912.7" x2="1912.7" y1="1424.7" y2="1436.2" stroke="#2d303a" stroke-width="2"/>
<line x1="1970.1" x2="1970.1" y1="1424.7" y2="1436.2" stroke="#2d303a" stroke-width="2"/>
<line x1="2027.5" x2="2027.5" y1="1424.7" y2="1436.2" stroke="#2d303a" stroke-width="2"/>
<circle cx="420.3" cy="1442.800" r="6" fill="#3b3e49"/>
<circle cx="535.1" cy="1442.800" r="6" fill="#3b3e49"/>
<circle cx="592.5" cy="1442.800" r="6" fill="#3b3e49"/>
<circle cx="649.9" cy="1442.800" r="6" fill="#3b3e49"/>
<circle cx="707.3" cy="1442.800" r="6" fill="#3b3e49"/>
<circle cx="879.5" cy="1442.800" r="6" fill="#3b3e49"/>
<circle cx="936.9" cy="1442.800" r="6" fill="#3b3e49"/>
<circle cx="994.3" cy="1442.800" r="6" fill="#3b3e49"/>
<circle cx="362.9" cy="1442.800" r="4.050" fill="#3b3e49"/>
<circle cx="477.7" cy="1442.800" r="4.050" fill="#3b3e49"/>
<circle cx="822.1" cy="1442.800" r="4.050" fill="#3b3e49"/>
<circle cx="1109.1" cy="1442.800" r="4.050" fill="#3b3e49"/>
<circle cx="1625.7" cy="1442.800" r="4.050" fill="#3b3e49"/>
<circle cx="1797.9" cy="1442.800" r="4.050" fill="#3b3e49"/>
<circle cx="1855.3" cy="1442.800" r="4.050" fill="#3b3e49"/>
<circle cx="1912.7" cy="1442.800" r="4.050" fill="#3b3e49"/>
<circle cx="2027.5" cy="1442.800" r="4.050" fill="#3b3e49"/>
</svg>
<div class="t" style="top:1457.08px;font-size:24px;line-height:24px;color:#636774;font-weight:400;letter-spacing:0.001px;left:21.10px;width:800px;text-align:center;text-indent:0.001px;transform:scaleX(1.0175);">9/11</div>
<div class="t" style="top:1457.08px;font-size:24px;line-height:24px;color:#636774;font-weight:400;letter-spacing:0.001px;left:133.90px;width:800px;text-align:center;text-indent:0.001px;transform:scaleX(1.0487);">9/13</div>
<div class="t" style="top:1457.08px;font-size:24px;line-height:24px;color:#636774;font-weight:400;letter-spacing:0.001px;left:248.80px;width:800px;text-align:center;text-indent:0.001px;transform:scaleX(1.0375);">9/15</div>
<div class="t" style="top:1457.08px;font-size:24px;line-height:24px;color:#636774;font-weight:400;left:364.70px;width:800px;text-align:center;transform:scaleX(1.0472);">9/17</div>
<div class="t" style="top:1457.08px;font-size:24px;line-height:24px;color:#636774;font-weight:400;letter-spacing:0.12px;left:479.10px;width:800px;text-align:center;text-indent:0.12px;transform:scaleX(1.07);">9/19</div>
<div class="t" style="top:1457.08px;font-size:24px;line-height:24px;color:#636774;font-weight:400;left:593.60px;width:800px;text-align:center;transform:scaleX(1.0562);">9/21</div>
<div class="t" style="top:1457.08px;font-size:24px;line-height:24px;color:#636774;font-weight:400;letter-spacing:0.857px;left:706.50px;width:800px;text-align:center;text-indent:0.857px;transform:scaleX(1.07);">9/23</div>
<div class="t" style="top:1457.08px;font-size:24px;line-height:24px;color:#636774;font-weight:400;letter-spacing:0.546px;left:821.50px;width:800px;text-align:center;text-indent:0.546px;transform:scaleX(1.07);">9/25</div>
<div class="t" style="top:1457.08px;font-size:24px;line-height:24px;color:#636774;font-weight:400;letter-spacing:0.743px;left:936.40px;width:800px;text-align:center;text-indent:0.743px;transform:scaleX(1.07);">9/27</div>
<div class="t" style="top:1457.08px;font-size:24px;line-height:24px;color:#636774;font-weight:400;letter-spacing:1.055px;left:1050.80px;width:800px;text-align:center;text-indent:1.055px;transform:scaleX(1.07);">9/29</div>
<div class="t" style="top:1457.08px;font-size:24px;line-height:24px;color:#636774;font-weight:400;left:1168.60px;width:800px;text-align:center;transform:scaleX(1.012);">10/1</div>
<div class="t" style="top:1457.08px;font-size:24px;line-height:24px;color:#636774;font-weight:400;letter-spacing:0.287px;left:1281.50px;width:800px;text-align:center;text-indent:0.287px;transform:scaleX(1.07);">10/3</div>
<div class="t" style="top:1457.08px;font-size:24px;line-height:24px;color:#636774;font-weight:400;letter-spacing:0.162px;left:1396.60px;width:800px;text-align:center;text-indent:0.162px;transform:scaleX(1.07);">10/5</div>
<div class="t" style="top:1457.08px;font-size:24px;line-height:24px;color:#636774;font-weight:400;letter-spacing:0.204px;left:1511.70px;width:800px;text-align:center;text-indent:0.204px;transform:scaleX(1.07);">10/7</div>
<div class="t" style="top:1457.08px;font-size:24px;line-height:24px;color:#636774;font-weight:400;letter-spacing:0.048px;left:1626.00px;width:800px;text-align:center;text-indent:0.048px;transform:scaleX(1.07);">10/9</div>
<div class="t" style="top:1157.31px;font-size:23.5px;line-height:23.5px;color:#636774;font-weight:400;letter-spacing:0.001px;left:2049.96px;transform:scaleX(1.0524);transform-origin:0 0;">1,000</div>
<div class="t" style="top:1310.71px;font-size:23.5px;line-height:23.5px;color:#636774;font-weight:400;letter-spacing:1.109px;left:2051.77px;transform:scaleX(1.07);transform-origin:0 0;">400</div>
<div class="t" style="top:1413.61px;font-size:23.5px;line-height:23.5px;color:#636774;font-weight:400;left:2051.42px;transform:scaleX(1.0001);transform-origin:0 0;">0</div>
<div class="b" style="left:612.8px;top:1262.7px;width:213.6px;height:122.4px;background:#23262c;border-radius:16px;"></div>
<div class="t" style="top:1285.99px;font-size:26px;line-height:26px;color:#d4d6dc;font-weight:400;left:632.67px;transform:scaleX(1.0034);transform-origin:0 0;">Sep 14</div>
<div class="t" style="top:1333.09px;font-size:26px;line-height:26px;color:#4f94e2;font-weight:400;left:631.60px;transform:scaleX(1.0353);transform-origin:0 0;">Followers: 821</div>
<div class="b" style="left:323px;top:1563px;width:1848px;height:200px;background:#12151b;border-radius:32px;"></div>
<div class="t" style="top:1603.82px;font-size:27.5px;line-height:27.5px;color:#8b909e;font-weight:400;left:357.69px;transform:scaleX(1.0423);transform-origin:0 0;">Impressions</div>
<div class="b" style="left:527px;top:1603px;width:30px;height:30px;background:#363a45;border-radius:15px;"></div>
<div class="t" style="top:1605.98px;font-size:24px;line-height:24px;color:#12151b;font-weight:700;left:142.00px;width:800px;text-align:center;transform:scaleX(1.0001);">?</div>
<svg viewBox="0 0 30 28" style="left:2041.5px;top:1602.0px;width:30px;height:28px" fill="none" stroke="#6b6f7d" stroke-width="2.300" stroke-linecap="round" stroke-linejoin="round"><path d="M1.300,9.200 Q1.300,6.200 4.300,6.200 H7.200 L9.600,2.600 Q10.400,1.400 11.800,1.400 H18.200 Q19.600,1.400 20.400,2.600 L22.800,6.200 H25.700 Q28.700,6.200 28.700,9.200 V23.600 Q28.700,26.600 25.700,26.600 H4.300 Q1.300,26.600 1.300,23.600 Z"/><circle cx="15" cy="16" r="5.200"/></svg>
<svg viewBox="0 0 30 31" style="left:2102.0px;top:1601.2px;width:30px;height:31px" fill="none" stroke="#6b6f7d" stroke-width="2.300" stroke-linecap="round" stroke-linejoin="round"><path d="M15,1.300 V19.500 M7.600,12.400 L15,19.800 L22.400,12.400 M1.300,20.500 V26.700 Q1.300,29.700 4.300,29.700 H25.700 Q28.700,29.700 28.700,26.700 V20.500"/></svg>
<div class="b" style="left:0px;top:1648px;width:2468px;height:18px;background:linear-gradient(90deg,#190c1f,#1c0d23 45%,#1f0f26);border-radius:0px;"></div>
<div class="b" style="left:0px;top:1665.7px;width:2468px;height:2.2px;background:#50455a;border-radius:0px;"></div>
<div class="b" style="left:0px;top:1667.9px;width:2468px;height:1.5px;background:#060606;border-radius:0px;"></div>
<div class="b" style="left:0px;top:1669.2px;width:2468px;height:31px;background:linear-gradient(#111,#1f1f1f);border-radius:0px;"></div>
<div class="b" style="left:1832px;top:1669.2px;width:636px;height:31px;background:linear-gradient(170deg,#222 0%,#2c2c2c 50%,#363636 100%);border-radius:0px;"></div>
<div class="b" style="left:1864.5px;top:1669.2px;width:5px;height:31px;background:linear-gradient(90deg,#1e1e1e 0 30%,#2a2a2a 30% 65%,#1e1e1e 65%);border-radius:0px;"></div>
<div class="b" style="left:1944.5px;top:1669.2px;width:5px;height:31px;background:linear-gradient(90deg,#1e1e1e 0 30%,#2a2a2a 30% 65%,#1e1e1e 65%);border-radius:0px;"></div>
</body></html>
